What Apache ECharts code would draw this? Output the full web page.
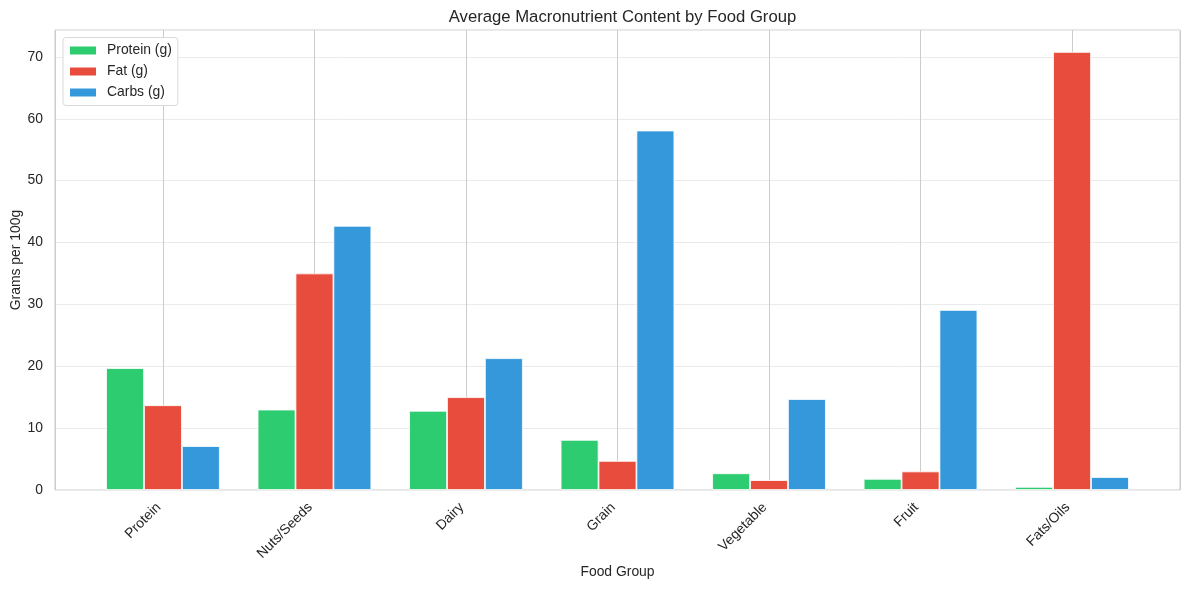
<!DOCTYPE html>
<html>
<head>
<meta charset="utf-8">
<script src="https://cdn.jsdelivr.net/npm/echarts@6/dist/echarts.min.js"></script>
<style>
  html, body { margin: 0; padding: 0; background: #ffffff; }
  #chart { width: 1189px; height: 590px; }
</style>
</head>
<body>
<div id="chart"></div>
<script>
const categories = ['Protein', 'Nuts/Seeds', 'Dairy', 'Grain', 'Vegetable', 'Fruit', 'Fats/Oils'];
const proteinValues = [19.7, 13.0, 12.8, 8.1, 2.7, 1.8, 0.5];
const fatValues = [13.7, 35.0, 15.0, 4.7, 1.6, 3.0, 70.8];
const carbValues = [7.1, 42.7, 21.3, 58.1, 14.7, 29.1, 2.1];
const yTicks = [0, 10, 20, 30, 40, 50, 60, 70];

const FONT = "'Liberation Sans', Arial, sans-serif";
const TXT = '#262626';

function toPoints(vals) { return vals.map((v, i) => [i, v]); }

const chart = echarts.init(document.getElementById('chart'), null, { renderer: 'canvas' });

const barW = 37.9;
function barSeries(name, vals, color) {
  return {
    name: name,
    type: 'bar',
    data: toPoints(vals),
    barWidth: barW,
    barGap: '0%',
    itemStyle: { color: color, borderColor: '#ffffff', borderWidth: 0.8 },
    emphasis: { disabled: true },
    z: 3
  };
}

chart.setOption({
  animation: false,
  backgroundColor: '#ffffff',
  textStyle: { fontFamily: FONT },
  title: {
    text: 'Average Macronutrient Content by Food Group',
    left: 617.5,
    top: 4,
    textAlign: 'center',
    textStyle: { fontFamily: FONT, fontSize: 16.7, fontWeight: 'normal', color: TXT }
  },
  legend: {
    orient: 'vertical',
    left: 63,
    top: 37.5,
    padding: [5, 6, 5, 5],
    itemWidth: 28,
    itemHeight: 10,
    itemGap: 5,
    icon: 'rect',
    backgroundColor: '#ffffff',
    borderColor: '#d9d9d9',
    borderWidth: 1,
    borderRadius: 3,
    textStyle: { fontFamily: FONT, fontSize: 13.9, color: TXT, lineHeight: 16, padding: [0, 0, 0, 5] },
    data: ['Protein (g)', 'Fat (g)', 'Carbs (g)']
  },
  grid: {
    left: 55,
    right: 9,
    top: 30,
    bottom: 100,
    show: true,
    borderColor: '#cccccc',
    borderWidth: 1,
    backgroundColor: 'transparent',
    containLabel: false,
    outerBoundsMode: 'none'
  },
  xAxis: {
    type: 'value',
    min: -0.7125,
    max: 6.7125,
    splitNumber: 7,
    name: 'Food Group',
    nameLocation: 'middle',
    nameGap: 75,
    nameMoveOverlap: false,
    nameTextStyle: { fontFamily: FONT, fontSize: 13.9, color: TXT },
    axisLine: { show: false },
    axisTick: { show: false },
    axisLabel: {
      rotate: 45,
      margin: 11,
      padding: [0, 6, 0, 0],
      fontFamily: FONT,
      fontSize: 13.9,
      color: TXT,
      showMinLabel: false,
      showMaxLabel: false,
      formatter: function (v) {
        const r = Math.round(v);
        if (Math.abs(v - r) > 1e-6 || r < 0 || r >= categories.length) return '';
        return categories[r];
      }
    },
    splitLine: { show: true, lineStyle: { color: '#cccccc', width: 1 } }
  },
  yAxis: {
    type: 'value',
    min: 0,
    max: 74.35,
    interval: 10,
    name: 'Grams per 100g',
    nameLocation: 'middle',
    nameGap: 32,
    nameMoveOverlap: false,
    nameTextStyle: { fontFamily: FONT, fontSize: 13.9, color: TXT },
    axisLine: { show: false },
    axisTick: { show: false },
    axisLabel: {
      margin: 12,
      fontFamily: FONT,
      fontSize: 13.9,
      color: TXT,
      showMaxLabel: false,
      formatter: function (v) { return yTicks.indexOf(v) >= 0 ? String(v) : ''; }
    },
    splitLine: { show: true, lineStyle: { color: '#ebebeb', width: 1 } }
  },
  series: [
    barSeries('Protein (g)', proteinValues, '#2ecc71'),
    barSeries('Fat (g)', fatValues, '#e74c3c'),
    barSeries('Carbs (g)', carbValues, '#3498db')
  ]
});
</script>
</body>
</html>
